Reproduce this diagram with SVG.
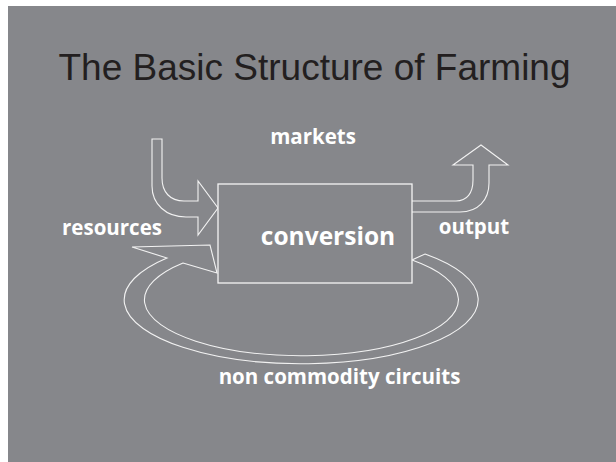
<svg xmlns="http://www.w3.org/2000/svg" width="616" height="462" viewBox="0 0 616 462">
<style>
.lbl{font-family:"Open Sans","DejaVu Sans",sans-serif;font-weight:bold;fill:#ffffff;font-size:20.5px}
.ln{fill:none;stroke:#f2f2f2;stroke-width:1.1;stroke-linejoin:miter}
</style>
<rect x="0" y="0" width="616" height="462" fill="#ffffff"/>
<rect x="8" y="6" width="608" height="456" fill="#86878b"/>
<text x="314.5" y="80" font-family="'Liberation Sans',Arial,sans-serif" font-size="37" fill="#231f20" text-anchor="middle">The Basic Structure of Farming</text>
<g id="connectors">
<path class="ln" d="M152,139 L162,139 L162,178 C162,192 170,201 184,201 L198,201 L198,181 L218,208 L198,235 L198,217 L186,217 C166,217 152,204 152,186 Z"/>
<path class="ln" d="M412,201 L456,201 C467,201 473,193 473,180 L473,165 L453,165 L481,145 L508,165 L489,165 L489,183 C489,200 478,212 460,212 L412,212"/>
<path class="ln" d="M183,263 L217,273 L210,245 L132,247 L167,258 A177,64 0 1 0 425,254 L412,260 A157,56 0 1 1 183,263 Z"/>
</g>
<g id="conversion">
<rect x="218" y="184" width="194" height="99" fill="#86878b" stroke="#f4f4f4" stroke-width="1.3"/>
<text class="lbl" x="328" y="245" text-anchor="middle" style="font-size:24.5px">conversion</text>
</g>
<g id="markets"><text class="lbl" x="313" y="144" text-anchor="middle">markets</text></g>
<g id="resources"><text class="lbl" x="112" y="235" text-anchor="middle">resources</text></g>
<g id="output"><text class="lbl" x="474" y="234" text-anchor="middle">output</text></g>
<g id="noncommodity"><text class="lbl" x="339.5" y="384" text-anchor="middle">non commodity circuits</text></g>
</svg>
